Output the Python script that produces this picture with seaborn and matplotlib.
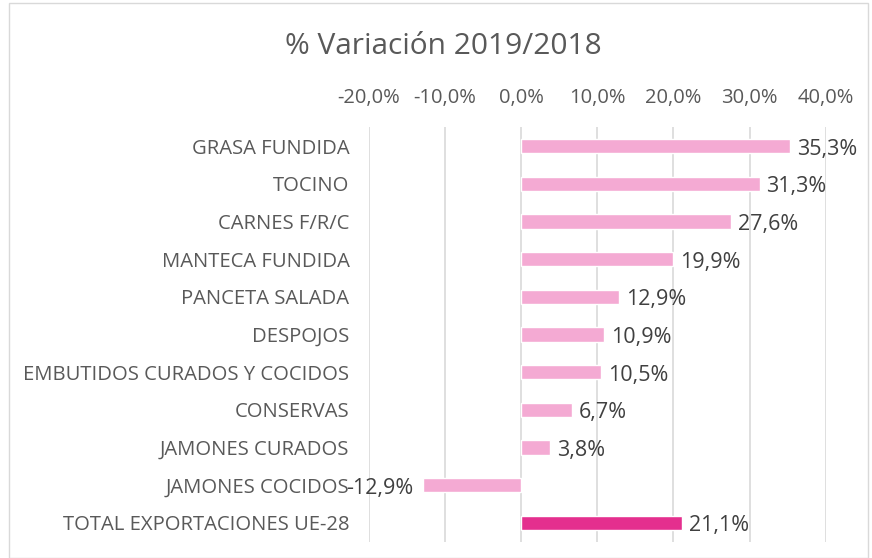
import pandas as pd
import seaborn as sns
import matplotlib.pyplot as plt
from matplotlib.ticker import FuncFormatter, FixedLocator

# Data
categorias = ['GRASA FUNDIDA', 'TOCINO', 'CARNES F/R/C', 'MANTECA FUNDIDA', 'PANCETA SALADA',
              'DESPOJOS', 'EMBUTIDOS CURADOS Y COCIDOS', 'CONSERVAS', 'JAMONES CURADOS',
              'JAMONES COCIDOS', 'TOTAL EXPORTACIONES UE-28']
variacion = [35.3, 31.3, 27.6, 19.9, 12.9, 10.9, 10.5, 6.7, 3.8, -12.9, 21.1]
ticks = [-20, -10, 0, 10, 20, 30, 40]

df = pd.DataFrame({'categoria': categorias, 'variacion': variacion})
colores = ['#F4AAD3'] * (len(categorias) - 1) + ['#E42F8E']

sns.set_style('white')
plt.rcParams['font.family'] = ['Open Sans', 'DejaVu Sans']

fig = plt.figure(figsize=(8.72, 5.58), dpi=100)
ax = fig.add_axes([0.423, 0.029, 0.524, 0.743])

sns.barplot(data=df, x='variacion', y='categoria', hue='categoria', palette=colores,
            saturation=1, legend=False, width=0.38, orient='h', ax=ax, zorder=3)

ax.set_xlim(-20, 40)
ax.xaxis.set_major_locator(FixedLocator(ticks))
ax.xaxis.set_major_formatter(FuncFormatter(lambda v, p: f'{v:.1f}%'.replace('.', ',')))
ax.xaxis.tick_top()
ax.grid(axis='x', color='#D9D9D9', lw=1.2, zorder=0)
ax.tick_params(axis='x', length=0, labelsize=14.5, labelcolor='#595959', pad=14)
ax.tick_params(axis='y', length=0, labelsize=14.6, labelcolor='#595959', pad=14)
for s in ax.spines.values():
    s.set_visible(False)
ax.set_xlabel('')
ax.set_ylabel('')

# data labels
for i, v in enumerate(variacion):
    txt = f'{v:.1f}%'.replace('.', ',')
    if v >= 0:
        ax.text(v + 0.9, i + 0.08, txt, va='center', ha='left', fontsize=15.5, color='#404040')
    else:
        ax.text(v - 1.3, i + 0.08, txt, va='center', ha='right', fontsize=15.5, color='#404040')

fig.text(0.508, 0.916, '% Variación 2019/2018', ha='center', va='center', fontsize=21.5, color='#595959')

# chart border
fig.patches.append(plt.Rectangle((0.01, 0.0), 0.985, 0.995, transform=fig.transFigure,
                                 fill=False, edgecolor='#D9D9D9', lw=1))

fig.savefig('out.png', dpi=100)
